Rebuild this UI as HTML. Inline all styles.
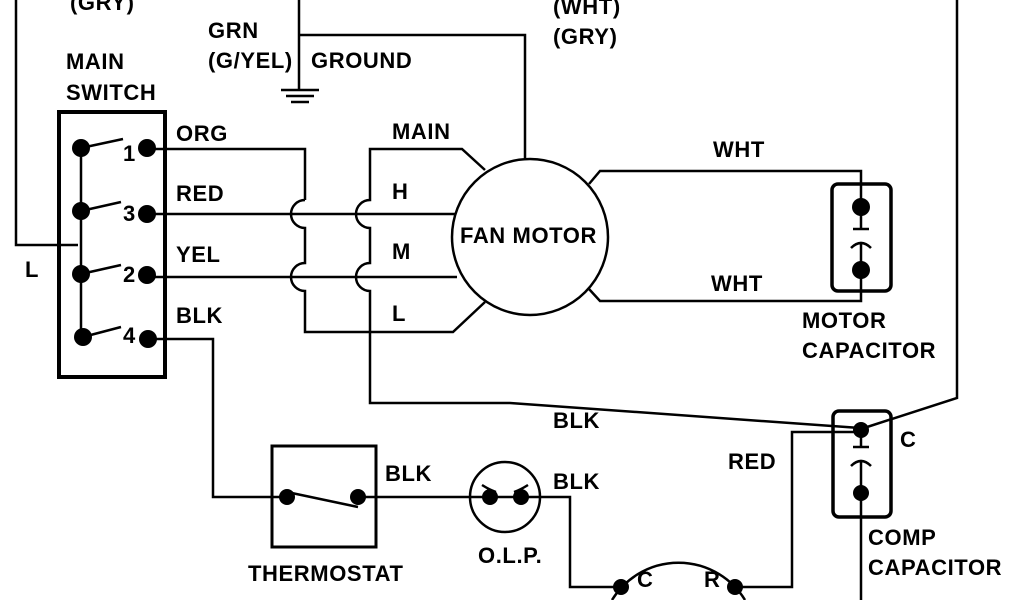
<!DOCTYPE html>
<html><head><style>body{margin:0;background:#fff}svg{display:block}text{font-family:"Liberation Sans",Arial,sans-serif;font-weight:bold;font-size:22px;letter-spacing:0.6px;fill:#000}</style></head>
<body>
<svg width="1024" height="600" viewBox="0 0 1024 600" xmlns="http://www.w3.org/2000/svg">
<g fill="none" stroke="#000" stroke-width="2.5">
<rect x="59" y="112" width="106" height="265" stroke-width="4"/>
<line x1="81" y1="148" x2="81" y2="337"/>
<line x1="81" y1="148" x2="123" y2="139"/>
<line x1="81" y1="211" x2="121" y2="202"/>
<line x1="81" y1="274" x2="121" y2="265"/>
<line x1="83" y1="337" x2="121" y2="327"/>
<polyline points="16,0 16,245 78,245"/>
<polyline points="147,149 305,149 305,200"/>
<path d="M305,200 A14,14 0 0 0 305,228 L305,263 A14,14 0 0 0 305,291 L305,332 L453,332 L485,302"/>
<line x1="147" y1="214" x2="455" y2="214"/>
<line x1="147" y1="277" x2="457" y2="277"/>
<path d="M485,170 L462,149 L370,149 L370,200 A14,14 0 0 0 370,228 L370,263 A14,14 0 0 0 370,291 L370,403 L510,403 L860,428"/>
<circle cx="530" cy="237" r="78"/>
<polyline points="299,0 299,90"/>
<line x1="281" y1="90" x2="319" y2="90"/>
<line x1="286" y1="96" x2="314" y2="96"/>
<line x1="291" y1="102" x2="309" y2="102"/>
<polyline points="299,35 525,35 525,158"/>
<polyline points="589,184 600,171 861,171 861,207"/>
<polyline points="589,289 600,301 861,301 861,270"/>
<rect x="832" y="184" width="59" height="107" rx="6" stroke-width="3.5"/>
<line x1="861" y1="207" x2="861" y2="229"/>
<line x1="853" y1="229" x2="869" y2="229"/>
<path d="M851,248 Q861,238 871,248"/>
<line x1="861" y1="242" x2="861" y2="270"/>
<polyline points="957,0 957,398 864,428"/>
<rect x="833" y="411" width="58" height="106" rx="6" stroke-width="3.5"/>
<line x1="861" y1="428" x2="861" y2="447"/>
<line x1="853" y1="447" x2="869" y2="447"/>
<path d="M851,466 Q861,456 871,466"/>
<line x1="861" y1="460" x2="861" y2="600"/>
<polyline points="861,432 792,432 792,587 740,587"/>
<polyline points="148,339 213,339 213,497 287,497"/>
<rect x="272" y="446" width="104" height="101" stroke-width="3"/>
<line x1="287" y1="492" x2="358" y2="507"/>
<line x1="358" y1="497" x2="490" y2="497"/>
<circle cx="505" cy="497" r="35"/>
<path d="M482,485 Q490,490 496,492 M528,485 Q520,490 514,492"/>
<line x1="490" y1="497" x2="520" y2="497"/>
<polyline points="520,497 570,497 570,587 620,587"/>
<path d="M612,600 A78,78 0 0 1 745,600"/>
</g>
<g fill="#000">
<circle cx="81" cy="148" r="9"/><circle cx="81" cy="211" r="9"/><circle cx="81" cy="274" r="9"/><circle cx="83" cy="337" r="9"/>
<circle cx="147" cy="148" r="9"/><circle cx="147" cy="214" r="9"/><circle cx="147" cy="275" r="9"/><circle cx="148" cy="339" r="9"/>
<circle cx="861" cy="207" r="9"/><circle cx="861" cy="270" r="9"/>
<circle cx="861" cy="430" r="8"/><circle cx="861" cy="493" r="8"/>
<circle cx="287" cy="497" r="8"/><circle cx="358" cy="497" r="8"/>
<circle cx="490" cy="497" r="8"/><circle cx="521" cy="497" r="8"/>
<circle cx="621" cy="587" r="8"/><circle cx="735" cy="587" r="8"/>
</g>
<text x="70" y="10">(GRY)</text>
<text x="208" y="38">GRN</text>
<text x="208" y="68">(G/YEL)</text>
<text x="311" y="68">GROUND</text>
<text x="553" y="14">(WHT)</text>
<text x="553" y="44">(GRY)</text>
<text x="66" y="69">MAIN</text>
<text x="66" y="100">SWITCH</text>
<text x="123" y="161">1</text><text x="123" y="221">3</text><text x="123" y="282">2</text><text x="123" y="343">4</text>
<text x="25" y="277">L</text>
<text x="176" y="141">ORG</text><text x="176" y="201">RED</text><text x="176" y="262">YEL</text><text x="176" y="323">BLK</text>
<text x="392" y="139">MAIN</text><text x="392" y="199">H</text><text x="392" y="259">M</text><text x="392" y="321">L</text>
<text x="460" y="243">FAN MOTOR</text>
<text x="713" y="157">WHT</text><text x="711" y="291">WHT</text>
<text x="802" y="328">MOTOR</text><text x="802" y="358">CAPACITOR</text>
<text x="553" y="428">BLK</text>
<text x="728" y="469">RED</text>
<text x="900" y="447">C</text>
<text x="868" y="545">COMP</text><text x="868" y="575">CAPACITOR</text>
<text x="385" y="481">BLK</text><text x="553" y="489">BLK</text>
<text x="248" y="581">THERMOSTAT</text>
<text x="478" y="563">O.L.P.</text>
<text x="637" y="587">C</text><text x="704" y="587">R</text>
</svg>
</body></html>
